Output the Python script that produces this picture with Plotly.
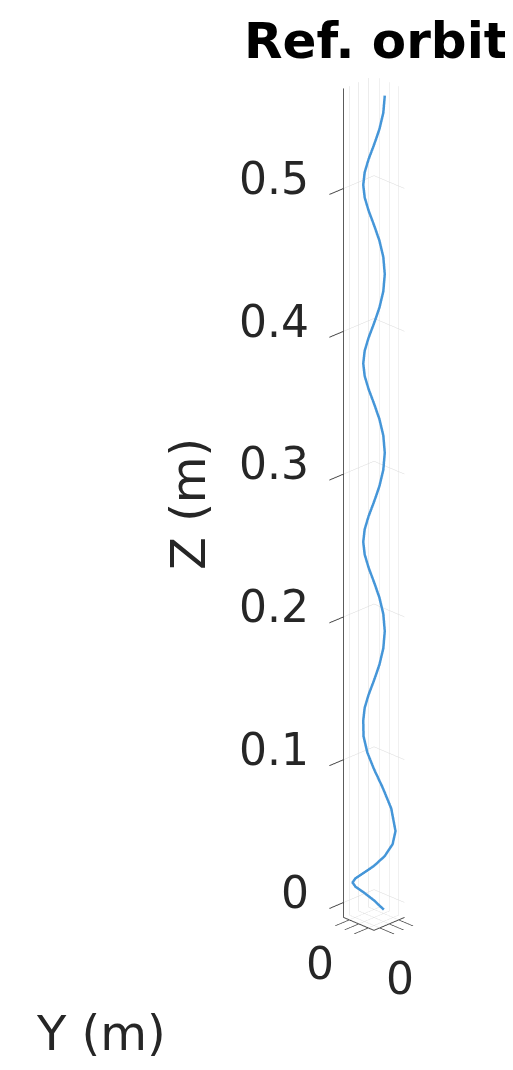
import plotly.graph_objects as go

# Reference orbit samples (metres)
orbit_x = [0.00566, 0.00773, 0.00773, 0.00566, 0.00207, -0.00207, -0.00566, -0.00773, -0.00773, -0.00566, -0.00207, 0.00207,
           0.00566, 0.00773, 0.00773, 0.00566, 0.00207, -0.00207, -0.00566, -0.00773, -0.00773, -0.00566, -0.00207, 0.00207,
           0.00566, 0.00773, 0.00773, 0.00566, 0.00207, -0.00207, -0.00566, -0.00773, -0.00773, -0.00566, -0.00207, 0.00207,
           0.00566, 0.00773, 0.00773, 0.00566, 0.00207, -0.00207, -0.00566,
           -0.00869, -0.00966, -0.00813, -0.00336, 0.00383,
           0.01131, 0.01545, 0.01545, 0.01131, 0.00414, -0.00414, -0.01131,
           -0.01526, -0.01497, -0.01061, -0.00375]
orbit_y = [0.00566, 0.00207, -0.00207, -0.00566, -0.00773, -0.00773, -0.00566, -0.00207, 0.00207, 0.00566, 0.00773, 0.00773,
           0.00566, 0.00207, -0.00207, -0.00566, -0.00773, -0.00773, -0.00566, -0.00207, 0.00207, 0.00566, 0.00773, 0.00773,
           0.00566, 0.00207, -0.00207, -0.00566, -0.00773, -0.00773, -0.00566, -0.00207, 0.00207, 0.00566, 0.00773, 0.00773,
           0.00566, 0.00207, -0.00207, -0.00566, -0.00773, -0.00773, -0.00566,
           -0.00233, 0.00259, 0.00813, 0.01256, 0.01430,
           0.01131, 0.00414, -0.00414, -0.01131, -0.01545, -0.01545, -0.01131,
           -0.00409, 0.00401, 0.01061, 0.01401]
orbit_z = [0.5650, 0.5546, 0.5442, 0.5337, 0.5233, 0.5129, 0.5025, 0.4921, 0.4817, 0.4712, 0.4608, 0.4504,
           0.4400, 0.4296, 0.4192, 0.4087, 0.3983, 0.3879, 0.3775, 0.3671, 0.3567, 0.3462, 0.3358, 0.3254,
           0.3150, 0.3046, 0.2942, 0.2837, 0.2733, 0.2629, 0.2525, 0.2421, 0.2317, 0.2212, 0.2108, 0.2004,
           0.1900, 0.1796, 0.1692, 0.1587, 0.1483, 0.1379, 0.1275,
           0.1146, 0.1017, 0.0888, 0.0758, 0.0629,
           0.0500, 0.0440, 0.0380, 0.0320, 0.0260, 0.0200, 0.0140,
           0.0078, 0.0018, -0.0045, -0.0100]

xy_range = [-0.016, 0.016]
z_range = [-0.0105, 0.57]
xy_ticks = [-0.01, 0, 0.01]
z_ticks = [0, 0.1, 0.2, 0.3, 0.4, 0.5]
z_ticktext = ["0", "0.1", "0.2", "0.3", "0.4", "0.5"]

FONT = "DejaVu Sans"
TXT = "#262626"
W, H = 513, 1070

fig = go.Figure()
fig.add_trace(go.Scatter3d(
    x=orbit_x, y=orbit_y, z=orbit_z, mode="lines",
    line=dict(color="#4596d8", width=5), showlegend=False, hoverinfo="skip"))

common = dict(showbackground=False, showgrid=True, gridcolor="#d9d9d9", gridwidth=1,
              zeroline=False, showline=True, linecolor="#444444", linewidth=2,
              ticks="outside", tickcolor="#444444", ticklen=20, tickwidth=2, showticklabels=False,
              showspikes=False, title=dict(text=""))

# tick labels placed at the projected axis positions by the scene itself
scene_ann = []
for zv, zt in zip(z_ticks, z_ticktext):
    scene_ann.append(dict(x=xy_range[0], y=xy_range[0], z=zv, text=zt, showarrow=False,
                          xanchor="right", yanchor="middle", xshift=-32, yshift=10,
                          font=dict(family=FONT, size=44, color=TXT)))
scene_ann.append(dict(x=0, y=xy_range[0], z=z_range[0], text="0", showarrow=False,
                      xanchor="center", yanchor="top", xshift=-39, yshift=-12,
                      font=dict(family=FONT, size=44, color=TXT)))
scene_ann.append(dict(x=xy_range[1], y=0, z=z_range[0], text="0", showarrow=False,
                      xanchor="center", yanchor="top", xshift=11, yshift=-27,
                      font=dict(family=FONT, size=44, color=TXT)))

fig.update_layout(
    width=W, height=H,
    margin=dict(l=0, r=0, t=0, b=0),
    paper_bgcolor="white",
    showlegend=False,
    scene=dict(
        domain=dict(x=[0.442, 0.984], y=[0.062, 1.0]),
        xaxis=dict(range=xy_range, tickvals=xy_ticks, **common),
        yaxis=dict(range=xy_range, tickvals=xy_ticks, **common),
        zaxis=dict(range=z_range, tickvals=z_ticks, **common),
        aspectmode="manual",
        aspectratio=dict(x=0.0857, y=0.0857, z=1.822),
        camera=dict(eye=dict(x=1.923, y=-1.923, z=1.2526), up=dict(x=0, y=0, z=1),
                    center=dict(x=0, y=0, z=-0.0154), projection=dict(type="orthographic")),
        annotations=scene_ann,
    ),
)
fig.add_annotation(text="<b>Ref. orbit</b>", x=368 / W, y=1 - 33 / H, xref="paper", yref="paper",
                   xanchor="center", yanchor="middle",
                   showarrow=False, font=dict(family=FONT, size=50, color="black"))
fig.add_annotation(text="Z (m)", x=180 / W, y=1 - 496 / H, xref="paper", yref="paper", textangle=-90,
                   xanchor="center", yanchor="middle",
                   showarrow=False, font=dict(family=FONT, size=48, color=TXT))
fig.add_annotation(text="Y (m)", x=93 / W, y=1 - 1025 / H, xref="paper", yref="paper",
                   xanchor="center", yanchor="middle",
                   showarrow=False, font=dict(family=FONT, size=48, color=TXT))

fig.write_html("out.html")
